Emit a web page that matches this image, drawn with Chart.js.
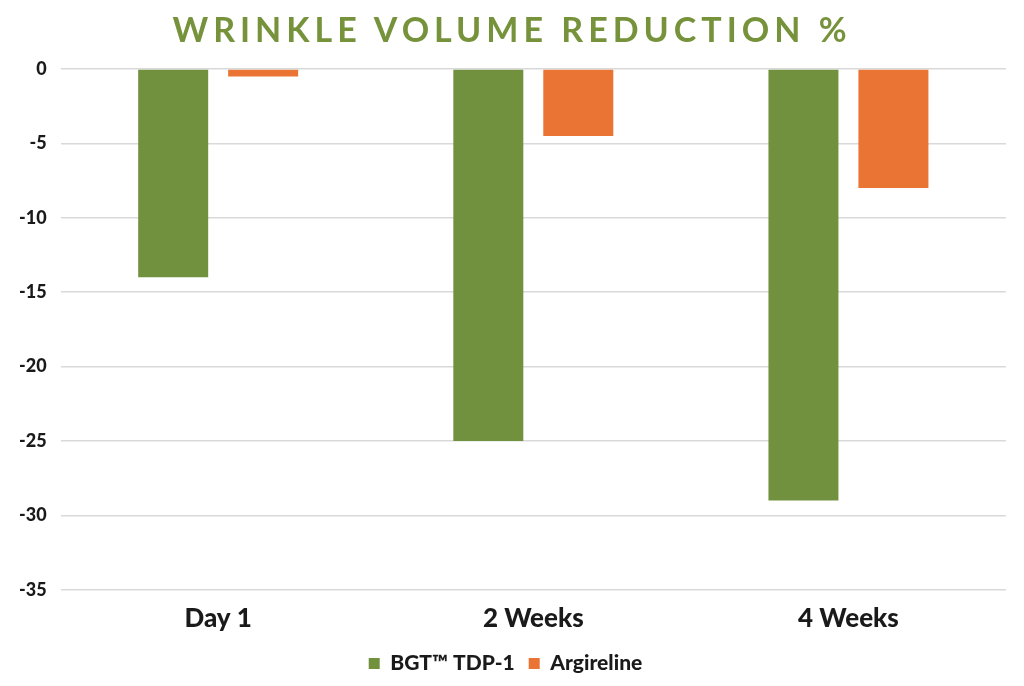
<!DOCTYPE html>
<html>
<head>
<meta charset="utf-8">
<script src="https://cdn.jsdelivr.net/npm/chart.js@4"></script>
<style>
  html, body { margin: 0; padding: 0; background: #fff; }
  #wrap { position: relative; width: 1024px; height: 686px; }
  #title {
    position: absolute; left: 0; right: 0; top: 8px;
    text-align: center; font-family: Lato, sans-serif; font-weight: 700;
    font-size: 34px; letter-spacing: 5px; color: #76933c;
  }
</style>
</head>
<body>
<div id="wrap">
  <div id="title">WRINKLE VOLUME REDUCTION %</div>
  <canvas id="chart"></canvas>
</div>
<script>
// Data
const categories = ['Day 1', '2 Weeks', '4 Weeks'];
const bgtValues = [-14, -25, -29];
const argirelineValues = [-0.5, -4.5, -8];
const seriesNames = ['BGT\u2122 TDP-1', 'Argireline'];

const green = '#71913f';
const orange = '#e97434';

const ctx = document.getElementById('chart').getContext('2d');
new Chart(ctx, {
    type: 'bar',
    data: {
        labels: categories,
        datasets: [
            { label: seriesNames[0], data: bgtValues, backgroundColor: green },
            { label: seriesNames[1], data: argirelineValues, backgroundColor: orange }
        ]
    },
    options: {
        responsive: true,
        maintainAspectRatio: false,
        animation: false,
        categoryPercentage: 0.571,
        barPercentage: 0.778,
        layout: { padding: { top: 69, right: 18, left: 5, bottom: 2 } },
        plugins: {
            title: { display: false },
            tooltip: { enabled: false },
            legend: {
                position: 'bottom',
                labels: {
                    boxWidth: 11, boxHeight: 11, padding: 14,
                    color: '#1a1a1a',
                    font: { family: 'Lato', weight: '900', size: 21 }
                }
            }
        },
        scales: {
            x: {
                grid: { display: false },
                border: { display: false },
                ticks: { color: '#1a1a1a', padding: 5, font: { family: 'Lato', weight: '900', size: 26 } }
            },
            y: {
                min: -35, max: 0,
                ticks: { stepSize: 5, color: '#1a1a1a', padding: 14, font: { family: 'Lato', weight: '900', size: 18 } },
                grid: { color: '#d9d9d9', lineWidth: 1.5, drawTicks: false },
                border: { display: false }
            }
        }
    }
});
</script>
</body>
</html>
